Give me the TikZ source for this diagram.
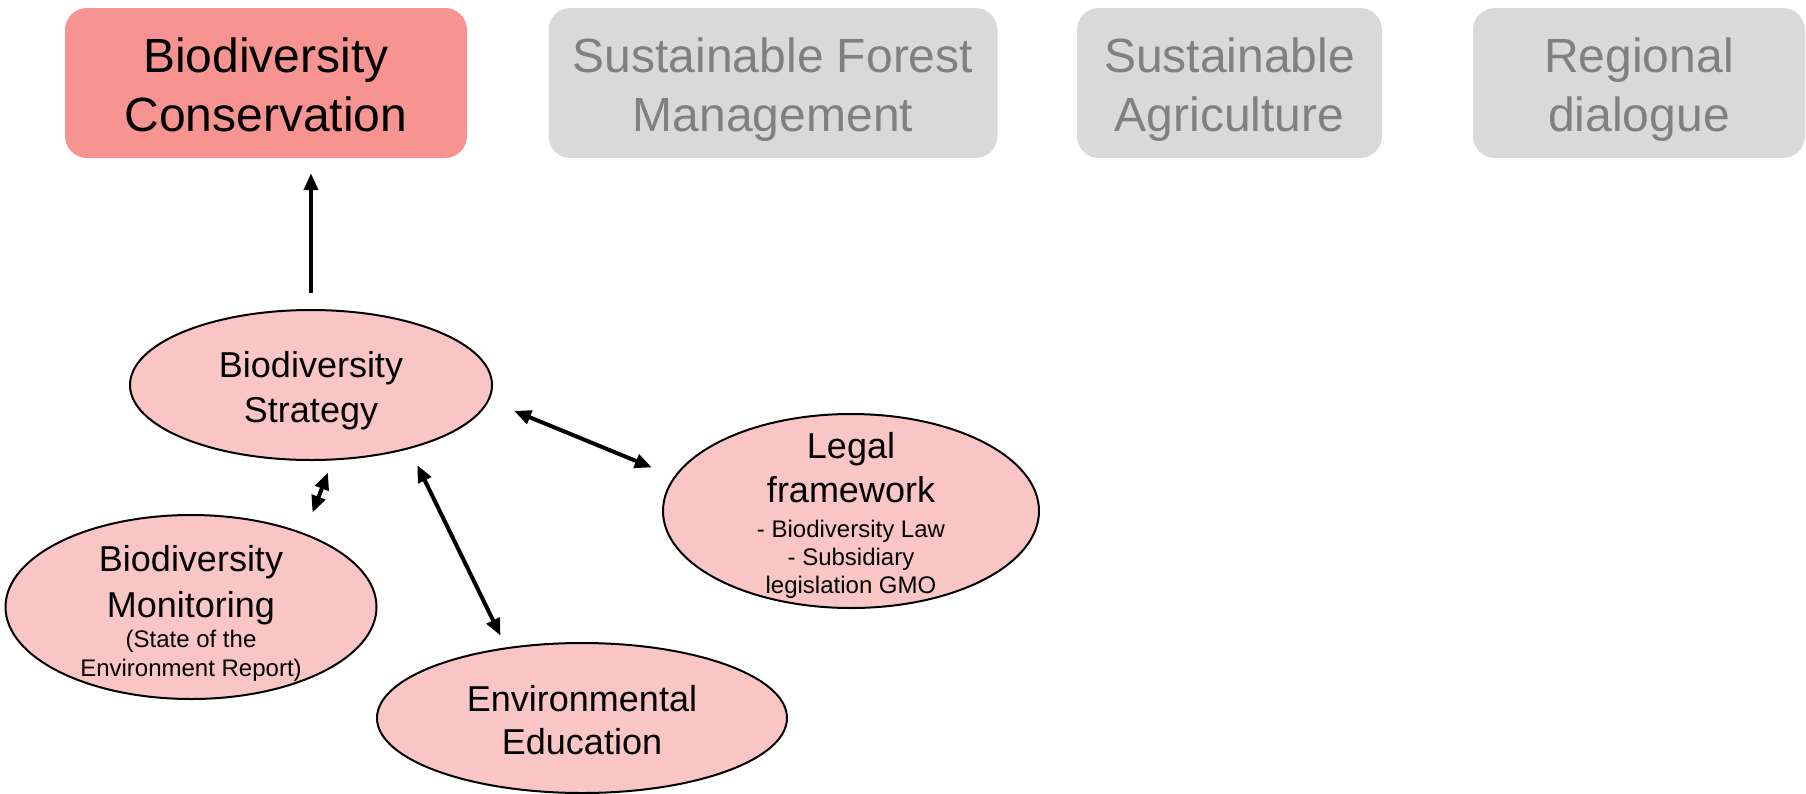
\documentclass[tikz,border=0pt]{standalone}
\usepackage{fontspec}
\setmainfont{Liberation Sans}
\usetikzlibrary{shapes.geometric,arrows.meta}
\definecolor{boxred}{RGB}{247,147,144}
\definecolor{boxgray}{RGB}{217,217,217}
\definecolor{graytext}{RGB}{128,128,128}
\definecolor{ellfill}{RGB}{249,198,197}
\newcommand\twolines[2]{\rule{0pt}{47pt}#1\\#2\rule[-10pt]{0pt}{10pt}}
\begin{document}
\begin{tikzpicture}[x=1pt,y=-1pt,
  >={Triangle[length=17pt,width=14pt]},
  topbox/.style={rectangle, rounded corners=22pt, inner sep=0pt, align=center,
    minimum height=150pt, font=\fontsize{48}{59}\selectfont},
  activebox/.style={topbox, fill=boxred, text=black},
  idlebox/.style={topbox, fill=boxgray, text=graytext},
  ell/.style={ellipse, draw=black, line width=2pt, fill=ellfill, inner sep=0pt},
  maintext/.style={align=center, inner sep=0pt, font=\fontsize{36}{45}\selectfont},
  subtext/.style={align=center, inner sep=0pt, font=\fontsize{24}{28}\selectfont},
  conn/.style={line width=4pt, black}]
\useasboundingbox (0,0) rectangle (1806,793);

% top boxes
\node[activebox, minimum width=402pt] (bc) at (266,83) {\twolines{Biodiversity}{Conservation}};
\node[idlebox, minimum width=449pt] (sfm) at (773,83) {\twolines{Sustainable Forest}{Management}};
\node[idlebox, minimum width=305pt] (sa) at (1229.5,83) {\twolines{Sustainable}{Agriculture}};
\node[idlebox, minimum width=332pt] (rd) at (1639,83) {\twolines{Regional}{dialogue}};

% ellipses
\node[ell, minimum width=362pt, minimum height=150pt] (strat) at (311,385) {};
\node[ell, minimum width=376pt, minimum height=194pt] (legal) at (851,511) {};
\node[ell, minimum width=371pt, minimum height=184pt] (mon) at (191,607) {};
\node[ell, minimum width=410pt, minimum height=150pt] (edu) at (582,718) {};

% texts
\node[maintext] (strattxt) at (311,391) {Biodiversity\\Strategy};
\node[maintext, font=\fontsize{36}{44}\selectfont] (legaltxt) at (851,468) {Legal\\framework};
\node[subtext] (legalsub) at (851,559) {- Biodiversity Law\\- Subsidiary\\legislation GMO};
\node[maintext, font=\fontsize{36}{46}\selectfont] (montxt) at (191,585) {Biodiversity\\Monitoring};
\node[subtext, font=\fontsize{24}{29}\selectfont] (monsub) at (191,656) {(State of the\\Environment Report)};
\node[maintext, font=\fontsize{36}{43}\selectfont] (edutxt) at (582,720) {Environmental\\Education};

% connectors
\draw[conn,->,shorten <=16pt,shorten >=15pt] (strat.north) -- (strat.north |- bc.south);
\draw[conn,<->,shorten <=27pt,shorten >=24pt] (strat.-5.5) -- (legal.169.3);
\draw[conn,<->,shorten <=13pt,shorten >=22pt] (strat.-74.6) -- (mon.33.1);
\draw[conn,<->,shorten <=18pt,shorten >=13pt] (strat.-33.2) -- (edu.137.3);
\end{tikzpicture}
\end{document}
